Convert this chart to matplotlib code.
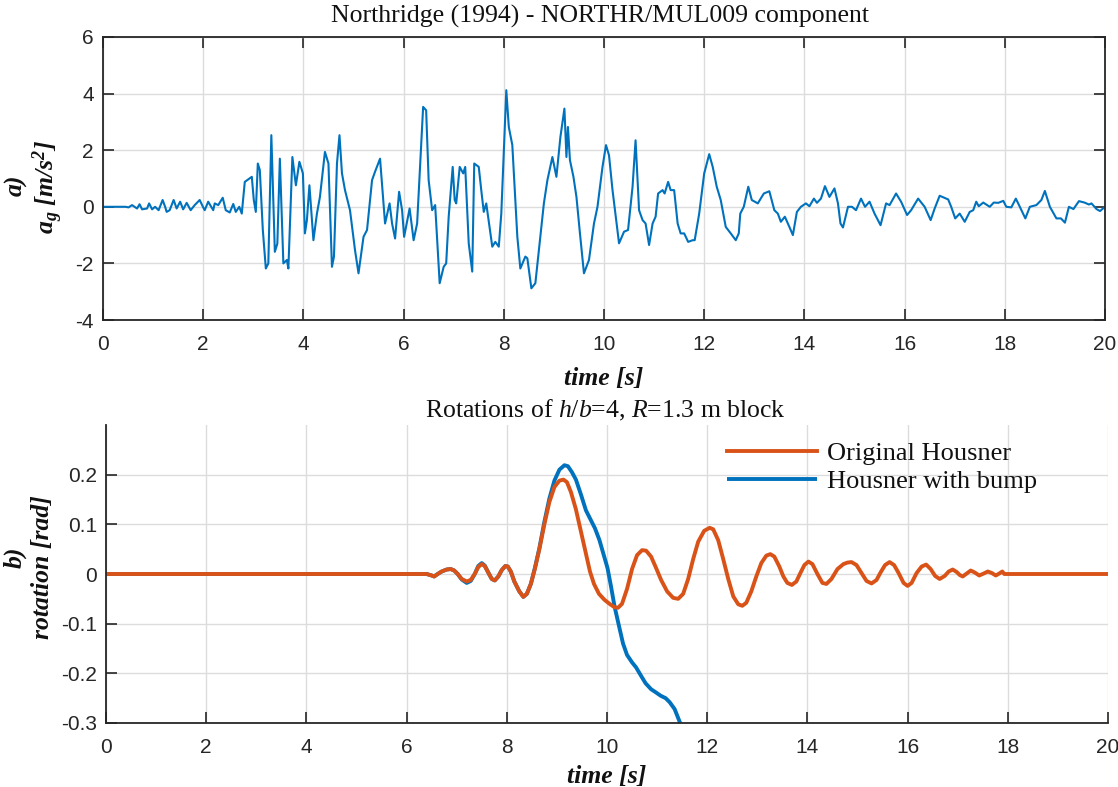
import matplotlib
matplotlib.use("Agg")
import matplotlib.pyplot as plt

# ---------------- data ----------------
t_acc = [0.0, 0.45, 0.51, 0.58, 0.68, 0.73, 0.78, 0.88, 0.92, 0.98, 1.04, 1.11, 1.19, 1.24, 1.27, 1.33,
         1.41, 1.47, 1.54, 1.60, 1.67, 1.75, 1.83, 1.93, 2.00,
         2.03, 2.10, 2.20, 2.23, 2.30, 2.39, 2.45, 2.53, 2.60, 2.65, 2.72, 2.77, 2.83, 2.97, 3.01, 3.05,
         3.09, 3.13, 3.19, 3.25, 3.30, 3.36, 3.40, 3.43, 3.48, 3.53, 3.57, 3.60, 3.67, 3.70, 3.78, 3.85,
         3.92, 3.99, 4.03, 4.07, 4.12, 4.17, 4.20, 4.27, 4.33, 4.43, 4.50, 4.57, 4.61, 4.67, 4.72, 4.77,
         4.83, 4.93, 5.03, 5.10, 5.20, 5.27, 5.37, 5.43, 5.53, 5.63, 5.72, 5.77, 5.83, 5.91, 5.97, 6.01,
         6.12, 6.20, 6.27, 6.39, 6.45,
         6.50, 6.57, 6.63, 6.72, 6.80, 6.85, 6.90, 6.98, 7.02, 7.05, 7.12, 7.19, 7.23, 7.30, 7.37, 7.41,
         7.50, 7.55, 7.60, 7.65, 7.77, 7.83, 7.90, 7.95, 8.05, 8.10, 8.17, 8.27, 8.33, 8.43, 8.47, 8.55,
         8.63, 8.70, 8.80, 8.87, 8.97, 9.05, 9.13, 9.21, 9.25, 9.28, 9.32, 9.39, 9.45, 9.52, 9.60, 9.70,
         9.80, 9.87, 9.97, 10.04, 10.10, 10.17, 10.23, 10.30, 10.40, 10.48, 10.57, 10.63, 10.70, 10.77,
         10.83, 10.90,
         10.97, 11.03, 11.08, 11.17, 11.21, 11.28, 11.33, 11.40, 11.47, 11.53, 11.60, 11.68, 11.77, 11.81,
         11.90, 12.00, 12.10, 12.17, 12.25, 12.33, 12.43, 12.53, 12.63, 12.69, 12.72, 12.79, 12.88, 12.95,
         13.07, 13.19, 13.30, 13.40, 13.47, 13.53, 13.61, 13.70, 13.77, 13.85, 13.93, 14.03, 14.10, 14.19,
         14.25, 14.33, 14.41, 14.50, 14.60, 14.67, 14.72, 14.77, 14.87, 14.95, 15.03, 15.13, 15.21, 15.30,
         15.40, 15.52, 15.63, 15.70, 15.83, 15.93, 16.05, 16.13, 16.27, 16.40, 16.52, 16.60, 16.70, 16.87,
         16.93, 17.01, 17.10, 17.20, 17.30, 17.37, 17.43, 17.48, 17.57, 17.70, 17.78, 17.87, 17.97, 18.03,
         18.13, 18.22, 18.30, 18.41, 18.50, 18.63, 18.73, 18.80, 18.90, 19.03, 19.12, 19.20, 19.28, 19.37,
         19.48, 19.59, 19.68, 19.73, 19.83, 19.90, 20.00]
a_acc = [0.0, 0.0, -0.02, 0.06, -0.06, 0.09, -0.09, -0.06, 0.12, -0.09, 0.0, -0.12, 0.24, 0.0, -0.18, -0.12,
         0.24, -0.06, 0.18, -0.09, 0.14, -0.12, 0.06, 0.24, -0.02,
         -0.12, 0.18, -0.12, 0.12, 0.06, 0.32, -0.12, -0.20, 0.10, -0.18, 0.0, -0.24, 0.88, 1.06, 0.24, -0.18,
         1.53, 1.30, -0.82, -2.18, -2.00, 2.53, 0.12, -1.59, -1.30, 1.70, -0.35, -2.00, -1.88, -2.18, 1.76, 0.76,
         1.59, 1.18, -0.94, -0.47, 0.76, -0.47, -1.18, -0.24, 0.35, 1.94, 1.53, -2.12, -1.76, 1.53, 2.53, 1.18,
         0.59, -0.12, -1.53, -2.35, -1.06, -0.82, 0.94, 1.24, 1.70, -0.59, 0.12, -0.59, -1.12, 0.53, -0.12, -1.06,
         -0.06, -1.18, -0.59, 3.53, 3.41,
         0.94, -0.12, 0.06, -2.70, -2.12, -2.00, -0.35, 1.41, 0.24, 0.12, 1.41, 1.18, 1.41, -1.29, -2.29, 1.53,
         1.41, 0.59, -0.18, 0.12, -1.41, -1.24, -1.41, -0.24, 4.12, 2.82, 2.18, -1.06, -2.18, -1.76, -1.82, -2.88,
         -2.70, -1.53, 0.12, 0.94, 1.76, 1.06, 2.47, 3.47, 1.76, 2.82, 1.65, 1.06, 0.35, -0.94, -2.35, -1.88,
         -0.59, 0.0, 1.41, 2.18, 1.82, 0.59, -0.29, -1.29, -0.88, -0.82, 0.71, 2.35, -0.12, -0.47,
         -0.59, -1.35,
         -0.59, -0.35, 0.47, 0.59, 0.47, 0.88, 0.59, 0.59, -0.59, -0.94, -0.94, -1.24, -1.18, -1.18,
         -0.24, 1.18, 1.86, 1.41, 0.71, 0.24, -0.71, -0.94, -1.18, -0.94, -0.24, 0.0, 0.71, 0.24,
         0.12, 0.47, 0.55, -0.12, -0.24, -0.53, -0.35, -0.71, -1.00, -0.18, 0.0, 0.12, 0.02, 0.29,
         0.14, 0.29, 0.73, 0.35, 0.65, 0.12, -0.59, -0.73, 0.0, 0.0, -0.12, 0.29, 0.0, 0.18,
         -0.24, -0.65, 0.12, 0.06, 0.47, 0.18, -0.29, -0.12, 0.29, 0.0, -0.47, -0.06, 0.39, 0.26,
         0.0, -0.41, -0.24, -0.53, -0.18, -0.12, 0.18, 0.02, 0.15, 0.0, 0.15, 0.14, 0.21, 0.0,
         -0.02, 0.29, 0.0, -0.41, 0.0, 0.06, 0.24, 0.56, 0.0, -0.41, -0.41, -0.56, 0.0, -0.08,
         0.20, 0.15, 0.08, 0.12, -0.08, -0.15, 0.0]

t_orig = [0.0, 6.40, 6.50, 6.55, 6.62, 6.70, 6.80, 6.88, 6.95, 7.02, 7.10, 7.20, 7.28, 7.36, 7.43, 7.50,
          7.56, 7.63, 7.70, 7.76, 7.83, 7.90, 7.97, 8.02, 8.08, 8.15, 8.25, 8.33, 8.40, 8.48, 8.56, 8.65,
          8.75, 8.85, 8.95, 9.05, 9.13, 9.20, 9.28, 9.38, 9.48, 9.58, 9.66, 9.74, 9.84, 9.95, 10.05, 10.15,
          10.22, 10.30, 10.40, 10.50, 10.60, 10.70, 10.78, 10.88, 10.98, 11.08, 11.20, 11.32, 11.42, 11.52,
          11.62, 11.72, 11.82, 11.94, 12.05, 12.12, 12.22, 12.32, 12.42, 12.52, 12.62, 12.70, 12.78, 12.88,
          12.98, 13.08, 13.18, 13.26, 13.34, 13.44, 13.52, 13.60, 13.69, 13.78, 13.86, 13.94, 14.02, 14.10,
          14.20, 14.30, 14.38, 14.48, 14.60, 14.72, 14.80, 14.88, 14.98, 15.08, 15.18, 15.28, 15.38, 15.46,
          15.55, 15.64, 15.73, 15.82, 15.92, 16.00, 16.08, 16.18, 16.28, 16.37, 16.46, 16.55, 16.64, 16.74,
          16.82, 16.90, 16.98, 17.04, 17.10, 17.18, 17.26, 17.34, 17.43, 17.52, 17.60, 17.68, 17.76, 17.83,
          17.89, 17.93, 20.0]
r_orig = [0.0, 0.0, -0.003, -0.005, 0.0, 0.005, 0.009, 0.010, 0.007, 0.0, -0.010, -0.015, -0.012, 0.0, 0.014, 0.020,
          0.016, 0.003, -0.010, -0.013, -0.005, 0.008, 0.016, 0.015, 0.005, -0.015, -0.035, -0.046, -0.040, -0.020, 0.010, 0.050,
          0.100, 0.145, 0.175, 0.188, 0.190, 0.185, 0.165, 0.130, 0.085, 0.040, 0.005, -0.020, -0.040, -0.052, -0.060, -0.067,
          -0.068, -0.060, -0.030, 0.010, 0.038, 0.048, 0.047, 0.035, 0.012, -0.012, -0.035, -0.048, -0.050, -0.040,
          -0.010, 0.030, 0.065, 0.087, 0.093, 0.090, 0.068, 0.030, -0.010, -0.045, -0.061, -0.064, -0.058, -0.035,
          -0.005, 0.022, 0.037, 0.040, 0.035, 0.015, -0.005, -0.018, -0.022, -0.015, 0.002, 0.018, 0.025, 0.020,
          0.000, -0.018, -0.020, -0.010, 0.010, 0.020, 0.023, 0.024, 0.018, 0.002, -0.014, -0.019, -0.012, 0.003,
          0.018, 0.024, 0.018, 0.002, -0.018, -0.024, -0.018, 0.002, 0.015, 0.019, 0.010, -0.004, -0.010, -0.004,
          0.005, 0.009, 0.004, -0.002, -0.005, 0.001, 0.007, 0.003, -0.003, 0.001, 0.005, 0.002, -0.003, 0.001,
          0.005, 0.0, 0.0]

t_bump = [0.0, 6.40, 6.50, 6.55, 6.62, 6.70, 6.80, 6.88, 6.95, 7.02, 7.10, 7.20, 7.28, 7.36, 7.43, 7.50,
          7.56, 7.63, 7.70, 7.76, 7.83, 7.90, 7.97, 8.02, 8.08, 8.15, 8.25, 8.33, 8.40, 8.48, 8.56, 8.65,
          8.75, 8.85, 8.95, 9.05, 9.15, 9.22, 9.30, 9.38, 9.48, 9.58, 9.68, 9.76, 9.85, 9.93, 10.01, 10.08,
          10.15, 10.24, 10.32, 10.40, 10.50, 10.58, 10.68, 10.77, 10.88, 10.97, 11.07, 11.17, 11.25, 11.35,
          11.46]
r_bump = [0.0, 0.0, -0.003, -0.005, 0.0, 0.005, 0.009, 0.010, 0.007, 0.0, -0.011, -0.018, -0.014, 0.0, 0.016, 0.022,
          0.017, 0.003, -0.010, -0.013, -0.005, 0.008, 0.016, 0.015, 0.005, -0.015, -0.035, -0.046, -0.040, -0.020, 0.012, 0.052,
          0.105, 0.152, 0.188, 0.210, 0.219, 0.217, 0.205, 0.190, 0.160, 0.128, 0.108, 0.092, 0.068, 0.040, 0.012, -0.025,
          -0.065, -0.105, -0.140, -0.163, -0.178, -0.188, -0.205, -0.220, -0.232, -0.238, -0.245, -0.250, -0.258, -0.272,
          -0.300]

x_ticks = [0, 2, 4, 6, 8, 10, 12, 14, 16, 18, 20]
y_ticks_top = [-4, -2, 0, 2, 4, 6]
y_ticks_bot = [-0.3, -0.2, -0.1, 0, 0.1, 0.2]
y_ticklabels_bot = ["-0.3", "-0.2", "-0.1", "0", "0.1", "0.2"]

# ---------------- style ----------------
W, H = 1118, 787
plt.rcParams['font.family'] = ['Liberation Sans', 'DejaVu Sans']
plt.rcParams['axes.unicode_minus'] = False
plt.rcParams['mathtext.fontset'] = 'custom'
plt.rcParams['mathtext.rm'] = 'Liberation Serif'
plt.rcParams['mathtext.it'] = 'Liberation Serif:italic'
plt.rcParams['mathtext.bf'] = 'Liberation Serif:bold:italic'

BLUE = '#0072BD'
ORANGE = '#D95319'
AX = '#262626'
GRID = '#dcdcdc'
TXT = '#111111'
SERIF = ['Liberation Serif', 'DejaVu Serif']
FS = 18.5

fig = plt.figure(figsize=(W / 100, H / 100), dpi=100)


def fx(px):
    return px / W


def fy(py):
    return 1 - py / H


ax1 = fig.add_axes([fx(103), fy(320), fx(1105 - 103), (320 - 37) / H])
ax2 = fig.add_axes([fx(106), fy(723), fx(1108 - 106), (723 - 425) / H])

ax1.plot(t_acc, a_acc, color=BLUE, lw=1.5)
ax1.set_xlim(0, 20)
ax1.set_ylim(-4, 6)
ax1.set_xticks(x_ticks)
ax1.set_yticks(y_ticks_top)

lb, = ax2.plot(t_bump, r_bump, color=BLUE, lw=2.8, solid_capstyle='butt')
lo, = ax2.plot(t_orig, r_orig, color=ORANGE, lw=2.8)
ax2.set_xlim(0, 20)
ax2.set_ylim(-0.3, 0.3)
ax2.set_xticks(x_ticks)
ax2.set_yticks(y_ticks_bot)
ax2.set_yticklabels(y_ticklabels_bot)

for ax in (ax1, ax2):
    ax.grid(True, color=GRID, lw=1.0)
    ax.set_axisbelow(True)
    for s in ax.spines.values():
        s.set_color(AX)
        s.set_linewidth(1.3)
    ax.tick_params(direction='in', length=8, width=1.2, color=AX,
                   labelcolor=AX, labelsize=15)
    ax.tick_params(axis='x', pad=11)
    ax.tick_params(axis='y', pad=6.5)

ax1.tick_params(top=True, right=True)
ax2.spines['top'].set_visible(False)
ax2.spines['right'].set_visible(False)

# titles and labels
fig.text(fx(600), fy(16), 'Northridge (1994) - NORTHR/MUL009 component',
         family=SERIF, fontsize=FS, ha='center', va='center', color=TXT)
fig.text(fx(604), fy(379), 'time [s]', family=SERIF, fontsize=FS, weight='bold',
         style='italic', ha='center', va='center', color=TXT)
fig.text(fx(605), fy(410), 'Rotations of $h$/$b$=4, $R$=1.3 m block',
         family=SERIF, fontsize=FS, ha='center', va='center', color=TXT)
fig.text(fx(607), fy(776), 'time [s]', family=SERIF, fontsize=FS, weight='bold',
         style='italic', ha='center', va='center', color=TXT)

fig.text(fx(16), fy(185), 'a)', family=SERIF, fontsize=FS, weight='bold', style='italic',
         rotation=90, ha='center', va='center', color=TXT)
fig.text(fx(48), fy(187), r'$\mathbf{a_g\ [m/s^2]}$', fontsize=FS,
         rotation=90, ha='center', va='center', color=TXT)
fig.text(fx(15), fy(557), 'b)', family=SERIF, fontsize=FS, weight='bold', style='italic',
         rotation=90, ha='center', va='center', color=TXT)
fig.text(fx(43), fy(567), 'rotation [rad]', family=SERIF, fontsize=FS, weight='bold', style='italic',
         rotation=90, ha='center', va='center', color=TXT)

leg = ax2.legend([lo, lb], ['Original Housner', 'Housner with bump'],
                 loc='upper left', bbox_to_anchor=(fx(722), fy(436)), bbox_transform=fig.transFigure,
                 frameon=False, handlelength=3.4, handletextpad=0.38, labelspacing=0.18,
                 prop={'family': SERIF, 'size': 19}, borderaxespad=0, borderpad=0.2)
for txt in leg.get_texts():
    txt.set_color(TXT)

fig.savefig('out.png', dpi=100)
